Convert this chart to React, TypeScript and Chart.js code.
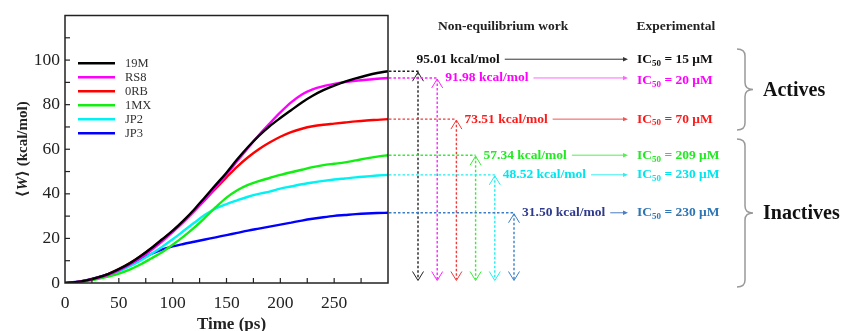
import React, { useEffect, useRef } from 'react';
import { Chart, registerables } from 'chart.js';

Chart.register(...registerables);

// ---- data ----
const timePs = [0, 10, 20, 30, 40, 50, 60, 70, 80, 90, 100, 110, 120, 130, 140, 150, 160, 170, 180, 190, 200, 210, 220, 230, 240, 250, 260, 270, 280, 290, 300];

const w19M = [0, 0.4, 1.2, 2.4, 4.0, 6.2, 8.8, 12.0, 15.6, 19.5, 23.5, 28.0, 33.0, 38.5, 44.0, 49.5, 55.5, 61.0, 66.0, 70.3, 74.0, 77.5, 81.0, 84.0, 86.5, 88.5, 90.3, 91.8, 93.1, 94.2, 95.01];
const wRS8 = [0, 0.4, 1.1, 2.2, 3.7, 5.7, 8.2, 11.2, 14.7, 18.6, 22.8, 27.3, 32.2, 37.5, 43.0, 48.7, 54.7, 60.6, 66.3, 71.5, 76.5, 81.0, 84.6, 86.9, 88.3, 89.3, 90.1, 90.7, 91.2, 91.6, 91.98];
const w0RB = [0, 0.4, 1.2, 2.4, 4.0, 6.2, 8.8, 12.0, 15.5, 19.3, 23.3, 27.7, 32.4, 37.3, 42.4, 47.4, 52.2, 56.4, 60.0, 63.0, 65.6, 67.7, 69.2, 70.3, 71.0, 71.5, 72.0, 72.5, 72.9, 73.2, 73.51];
const w1MX = [0, 0.3, 0.9, 1.8, 2.9, 4.2, 6.0, 8.3, 11.0, 13.8, 17.2, 20.8, 24.8, 29.3, 34.0, 38.3, 41.6, 44.0, 45.7, 47.1, 48.5, 49.7, 50.8, 52.0, 52.9, 53.5, 54.1, 55.0, 55.9, 56.7, 57.34];
const wJP2 = [0, 0.4, 1.1, 2.1, 3.5, 5.2, 7.4, 10.0, 13.0, 16.2, 19.6, 23.3, 27.0, 30.6, 33.4, 35.4, 37.1, 38.7, 40.0, 41.0, 42.3, 43.3, 44.3, 45.1, 45.8, 46.4, 46.9, 47.4, 47.8, 48.2, 48.52];
const wJP3 = [0, 0.5, 1.3, 2.5, 4.0, 5.8, 8.0, 10.5, 13.0, 15.0, 16.4, 17.5, 18.5, 19.5, 20.5, 21.5, 22.5, 23.5, 24.4, 25.3, 26.2, 27.1, 28.0, 28.8, 29.5, 30.1, 30.5, 30.9, 31.2, 31.4, 31.5];

const seriesNames = ['19M', 'RS8', '0RB', '1MX', 'JP2', 'JP3'];
const seriesValues = [w19M, wRS8, w0RB, w1MX, wJP2, wJP3];
const workLabels = ['95.01', '91.98', '73.51', '57.34', '48.52', '31.50'];
const ic50Labels = ['15', '20', '70', '209', '230', '230'];

const xTickLabels = ['0', '50', '100', '150', '200', '250'];
const yTickLabels = ['0', '20', '40', '60', '80', '100'];

// ---- styles ----
const curveColors = ['#000000', '#ff00ff', '#ff0000', '#11ee11', '#00f2f2', '#0000ff'];
const guideColors = ['#222222', '#ff22ff', '#f03a3a', '#33ee33', '#22eeee', '#3a7fc8'];
const workTextColors = ['#111111', '#ff00ff', '#ff1a1a', '#22ea22', '#00e6ee', '#2e3a8c'];
const icTextColors = ['#111111', '#ff00ff', '#ff1a1a', '#22ea22', '#00e6ee', '#2e75b6'];
const arrowColors = ['#333333', '#ff66ff', '#ee5555', '#55ee55', '#33eeee', '#4a7ec0'];

const SERIF = '"Liberation Serif", "Times New Roman", "DejaVu Serif", serif';

function chevron(ctx: CanvasRenderingContext2D, x: number, y: number, dir: number) {
  ctx.beginPath();
  ctx.moveTo(x - 5.5, y + dir * 9);
  ctx.lineTo(x, y);
  ctx.lineTo(x + 5.5, y + dir * 9);
  ctx.stroke();
}

function brace(ctx: CanvasRenderingContext2D, x0: number, y0: number, y1: number, w: number) {
  const ym = (y0 + y1) / 2;
  const xm = x0 + w * 0.5;
  const xt = x0 + w;
  const r = 7;
  ctx.beginPath();
  ctx.moveTo(x0, y0);
  ctx.quadraticCurveTo(xm, y0, xm, y0 + r);
  ctx.lineTo(xm, ym - r);
  ctx.quadraticCurveTo(xm, ym, xt, ym);
  ctx.quadraticCurveTo(xm, ym, xm, ym + r);
  ctx.lineTo(xm, y1 - r);
  ctx.quadraticCurveTo(xm, y1, x0, y1);
  ctx.stroke();
}

const overlayPlugin = {
  id: 'overlay',
  afterDatasetsDraw(chart: any) {
    const { ctx, chartArea: a, scales } = chart;
    const xs = scales.x;
    const ys = scales.y;
    ctx.save();

    // frame
    ctx.strokeStyle = '#222';
    ctx.lineWidth = 1.5;
    ctx.setLineDash([]);
    ctx.strokeRect(a.left, a.top, a.right - a.left, a.bottom - a.top);

    // inward ticks
    ctx.lineWidth = 1.2;
    for (let v = 10; v < 120; v += 10) {
      const py = ys.getPixelForValue(v);
      ctx.beginPath();
      ctx.moveTo(a.left, py);
      ctx.lineTo(a.left + 5, py);
      ctx.stroke();
    }
    for (let v = 25; v < 300; v += 25) {
      const px = xs.getPixelForValue(v);
      ctx.beginPath();
      ctx.moveTo(px, a.bottom);
      ctx.lineTo(px, a.bottom - 5);
      ctx.stroke();
    }

    // legend
    ctx.font = `12.5px ${SERIF}`;
    ctx.textBaseline = 'middle';
    ctx.textAlign = 'left';
    seriesNames.forEach((name, i) => {
      const ly = a.top + 47.7 + i * 14;
      ctx.strokeStyle = curveColors[i];
      ctx.lineWidth = 2.5;
      ctx.beginPath();
      ctx.moveTo(a.left + 13, ly);
      ctx.lineTo(a.left + 50, ly);
      ctx.stroke();
      ctx.fillStyle = '#333';
      ctx.fillText(name, a.left + 60, ly + 0.5);
    });

    // annotations
    const icX = a.right + 249;
    const bottomTip = a.bottom - 2.5;
    const workFont = `bold 13.5px ${SERIF}`;
    seriesValues.forEach((vals, i) => {
      const final = vals[vals.length - 1];
      const ly = ys.getPixelForValue(final);
      const vx = a.right + 30 + i * 19.2;
      ctx.strokeStyle = guideColors[i];
      ctx.lineWidth = 1.4;
      ctx.setLineDash([2.5, 2]);
      ctx.beginPath();
      ctx.moveTo(a.right + 1, ly);
      ctx.lineTo(vx + (i === 0 ? 2 : 0), ly);
      ctx.stroke();
      ctx.beginPath();
      ctx.moveTo(vx, ly + 1);
      ctx.lineTo(vx, bottomTip - 1);
      ctx.stroke();
      ctx.setLineDash([]);
      ctx.lineWidth = 1;
      chevron(ctx, vx, ly + 1, 1);
      chevron(ctx, vx, bottomTip, -1);

      // work label
      const tx = i === 0 ? vx - 1.5 : vx + 8;
      const ty = i === 0 ? ly - 12 : ly;
      ctx.font = workFont;
      ctx.textBaseline = 'middle';
      ctx.textAlign = 'left';
      ctx.fillStyle = workTextColors[i];
      const txt = `${workLabels[i]} kcal/mol`;
      ctx.fillText(txt, tx, ty);
      const tw = ctx.measureText(txt).width;

      // solid arrow
      const ax0 = tx + tw + 5;
      const ax1 = icX - 9;
      ctx.strokeStyle = arrowColors[i];
      ctx.fillStyle = arrowColors[i];
      ctx.lineWidth = 1;
      ctx.beginPath();
      ctx.moveTo(ax0, ty);
      ctx.lineTo(ax1 - 4, ty);
      ctx.stroke();
      ctx.beginPath();
      ctx.moveTo(ax1, ty);
      ctx.lineTo(ax1 - 5, ty - 2.2);
      ctx.lineTo(ax1 - 5, ty + 2.2);
      ctx.closePath();
      ctx.fill();

      // IC50 label
      const iy = i === 1 ? ty + 2.5 : ty;
      ctx.fillStyle = icTextColors[i];
      ctx.font = workFont;
      let cx = icX;
      ctx.fillText('IC', cx, iy);
      cx += ctx.measureText('IC').width;
      ctx.font = `bold 9px ${SERIF}`;
      ctx.fillText('50', cx, iy + 4);
      cx += ctx.measureText('50').width;
      ctx.font = workFont;
      ctx.fillText(` = ${ic50Labels[i]} \u03bcM`, cx, iy);
    });

    // headers
    ctx.fillStyle = '#222';
    ctx.font = `bold 13.5px ${SERIF}`;
    ctx.textBaseline = 'middle';
    ctx.fillText('Non-equilibrium work', a.right + 50, 26.7);
    ctx.fillText('Experimental', icX - 0.5, 26.7);

    // braces
    ctx.strokeStyle = '#999';
    ctx.lineWidth = 1.5;
    brace(ctx, 737, 49, 130, 16);
    brace(ctx, 737, 139, 287, 16);
    ctx.fillStyle = '#111';
    ctx.font = `bold 20px ${SERIF}`;
    ctx.fillText('Actives', 763, 91);
    ctx.fillText('Inactives', 763, 214);

    ctx.restore();
  },
  afterDraw(chart: any) {
    const { ctx, chartArea: a } = chart;
    ctx.save();
    // y title
    ctx.translate(23, (a.top + a.bottom) / 2);
    ctx.rotate(-Math.PI / 2);
    ctx.fillStyle = '#222';
    ctx.textBaseline = 'middle';
    ctx.textAlign = 'left';
    const fb = `bold 15px ${SERIF}`;
    const fi = `italic bold 15px ${SERIF}`;
    const parts: [string, string][] = [['\u27e8', fb], ['W', fi], ['\u27e9', fb], [' (kcal/mol)', fb]];
    let total = 0;
    parts.forEach(([t, f]) => { ctx.font = f; total += ctx.measureText(t).width; });
    let cx = -total / 2;
    parts.forEach(([t, f]) => { ctx.font = f; ctx.fillText(t, cx, 0); cx += ctx.measureText(t).width; });
    ctx.restore();

    ctx.save();
    ctx.fillStyle = '#222';
    ctx.font = `bold 17px ${SERIF}`;
    ctx.textAlign = 'center';
    ctx.textBaseline = 'alphabetic';
    ctx.fillText('Time (ps)', (a.left + a.right) / 2 + 5, 329);
    ctx.restore();
  },
};

export default function App() {
  const canvasRef = useRef<HTMLCanvasElement | null>(null);

  useEffect(() => {
    const canvas = canvasRef.current;
    if (!canvas) return;
    const datasets = seriesValues.map((vals, i) => ({
      label: seriesNames[i],
      data: timePs.map((t, k) => ({ x: t, y: vals[k] })),
      borderColor: curveColors[i],
      backgroundColor: curveColors[i],
      borderWidth: 2.4,
      pointRadius: 0,
      cubicInterpolationMode: 'monotone' as const,
      fill: false,
    }));
    const chart = new Chart(canvas, {
      type: 'line',
      data: { datasets },
      options: {
        animation: false,
        responsive: false,
        maintainAspectRatio: false,
        layout: { padding: { left: 0, right: 453, top: 13, bottom: 0 } },
        plugins: { legend: { display: false }, tooltip: { enabled: false }, title: { display: false } },
        scales: {
          x: {
            type: 'linear',
            min: 0,
            max: 300,
            grid: { display: false, drawTicks: false },
            border: { display: false },
            ticks: {
              stepSize: 50,
              padding: 10,
              color: '#222',
              font: { family: SERIF, size: 17.5 },
              maxRotation: 0,
              callback: (v: any) => (xTickLabels.includes(String(v)) ? String(v) : ''),
            },
            afterFit: (s: any) => { s.height = 48; },
          },
          y: {
            type: 'linear',
            min: 0,
            max: 120,
            grid: { display: false, drawTicks: false },
            border: { display: false },
            ticks: {
              stepSize: 20,
              padding: 5,
              color: '#222',
              font: { family: SERIF, size: 17.5 },
              callback: (v: any) => (yTickLabels.includes(String(v)) ? String(v) : ''),
            },
            afterFit: (s: any) => { s.width = 65; },
          },
        },
      },
      plugins: [overlayPlugin],
    });
    return () => chart.destroy();
  }, []);

  return (
    <div style={{ position: 'fixed', left: 0, top: 0, width: 841, height: 331, background: '#fff' }}>
      <canvas ref={canvasRef} width={841} height={331} style={{ width: 841, height: 331, display: 'block' }} />
    </div>
  );
}
